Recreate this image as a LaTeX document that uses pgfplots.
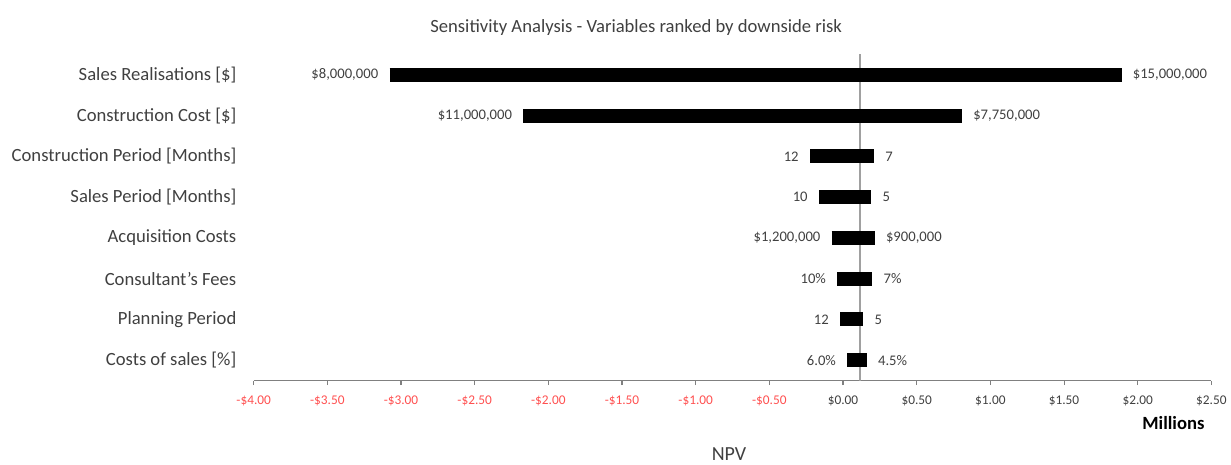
\documentclass[border=0pt]{standalone}
\usepackage{pgfplots}
\pgfplotsset{compat=1.18}
\usepackage{fontspec}
\setmainfont{Carlito}
\usetikzlibrary{calc}
\definecolor{txt}{HTML}{404040}
\definecolor{negred}{HTML}{FF5050}
\definecolor{axgray}{HTML}{808080}
\begin{document}
\begin{tikzpicture}
\begin{axis}[
  scale only axis,
  width=719.25pt, height=244.9pt,
  xmin=-4, xmax=2.5, ymin=0.5, ymax=8.5,
  axis x line*=bottom, axis y line*=left,
  y axis line style={draw=none},
  x axis line style={axgray, line width=1pt, -},
  xtick={-4,-3.5,...,2.5},
  xticklabels={\textcolor{negred}{-\$4.00},\textcolor{negred}{-\$3.50},\textcolor{negred}{-\$3.00},\textcolor{negred}{-\$2.50},\textcolor{negred}{-\$2.00},\textcolor{negred}{-\$1.50},\textcolor{negred}{-\$1.00},\textcolor{negred}{-\$0.50},\$0.00,\$0.50,\$1.00,\$1.50,\$2.00,\$2.50},
  x tick label style={font=\fontsize{10}{11}\selectfont, text=txt, yshift=-4.5pt},
  tick align=outside,
  major x tick style={axgray, line width=0.8pt},
  major tick length=3.5pt,
  ytick={1,...,8},
  major y tick style={draw=none},
  yticklabels={Costs of sales [\%],Planning Period,Consultant's Fees,Acquisition Costs,Sales Period [Months],Construction Period [Months],Construction Cost [\$],Sales Realisations [\$]},
  y tick label style={font=\fontsize{14}{16}\selectfont, text=txt, xshift=-6pt},
  clip=false,
  barline/.style={black, solid, line width=10.5pt, line cap=butt, mark=none},
]
\draw[axgray!75, line width=1.6pt] (axis cs:0.115,0.5) -- (axis cs:0.115,8.5);
\addplot[barline] coordinates {(-3.078,8) (1.890,8)};
\addplot[barline] coordinates {(-2.170,7) (0.807,7)};
\addplot[barline] coordinates {(-0.224,6) (0.210,6)};
\addplot[barline] coordinates {(-0.163,5) (0.192,5)};
\addplot[barline] coordinates {(-0.077,4) (0.215,4)};
\addplot[barline] coordinates {(-0.039,3) (0.199,3)};
\addplot[barline] coordinates {(-0.020,2) (0.138,2)};
\addplot[barline] coordinates {(0.029,1) (0.161,1)};
\begin{scope}[every node/.style={font=\fontsize{11}{12}\selectfont, text=txt}]
\node[anchor=east] at ([xshift=-5pt]axis cs:-3.078,8) {\$8,000,000};
\node[anchor=west] at ([xshift=5pt]axis cs:1.890,8) {\$15,000,000};
\node[anchor=east] at ([xshift=-5pt]axis cs:-2.170,7) {\$11,000,000};
\node[anchor=west] at ([xshift=5pt]axis cs:0.807,7) {\$7,750,000};
\node[anchor=east] at ([xshift=-5pt]axis cs:-0.224,6) {12};
\node[anchor=west] at ([xshift=5pt]axis cs:0.210,6) {7};
\node[anchor=east] at ([xshift=-5pt]axis cs:-0.163,5) {10};
\node[anchor=west] at ([xshift=5pt]axis cs:0.192,5) {5};
\node[anchor=east] at ([xshift=-5pt]axis cs:-0.077,4) {\$1,200,000};
\node[anchor=west] at ([xshift=5pt]axis cs:0.215,4) {\$900,000};
\node[anchor=east] at ([xshift=-5pt]axis cs:-0.039,3) {10\%};
\node[anchor=west] at ([xshift=5pt]axis cs:0.199,3) {7\%};
\node[anchor=east] at ([xshift=-5pt]axis cs:-0.020,2) {12};
\node[anchor=west] at ([xshift=5pt]axis cs:0.138,2) {5};
\node[anchor=east] at ([xshift=-5pt]axis cs:0.029,1) {6.0\%};
\node[anchor=west] at ([xshift=5pt]axis cs:0.161,1) {4.5\%};
\end{scope}
\node[anchor=east, font=\bfseries\fontsize{14}{16}\selectfont, text=black, inner sep=0pt] at ([xshift=-5pt,yshift=-32pt]rel axis cs:1,0) {Millions};
\node[font=\fontsize{15}{17}\selectfont, text=txt] at ([yshift=-55pt]rel axis cs:0.4963,0) {NPV};
\node[font=\fontsize{14}{16}\selectfont, text=txt] at ([yshift=20.5pt]rel axis cs:0.3994,1) {Sensitivity Analysis - Variables ranked by downside risk};
\end{axis}
\path ($(current axis.south west)+(-190.5pt,-63pt)$) rectangle ($(current axis.north east)+(13.5pt,40.9pt)$);
\end{tikzpicture}
\end{document}
